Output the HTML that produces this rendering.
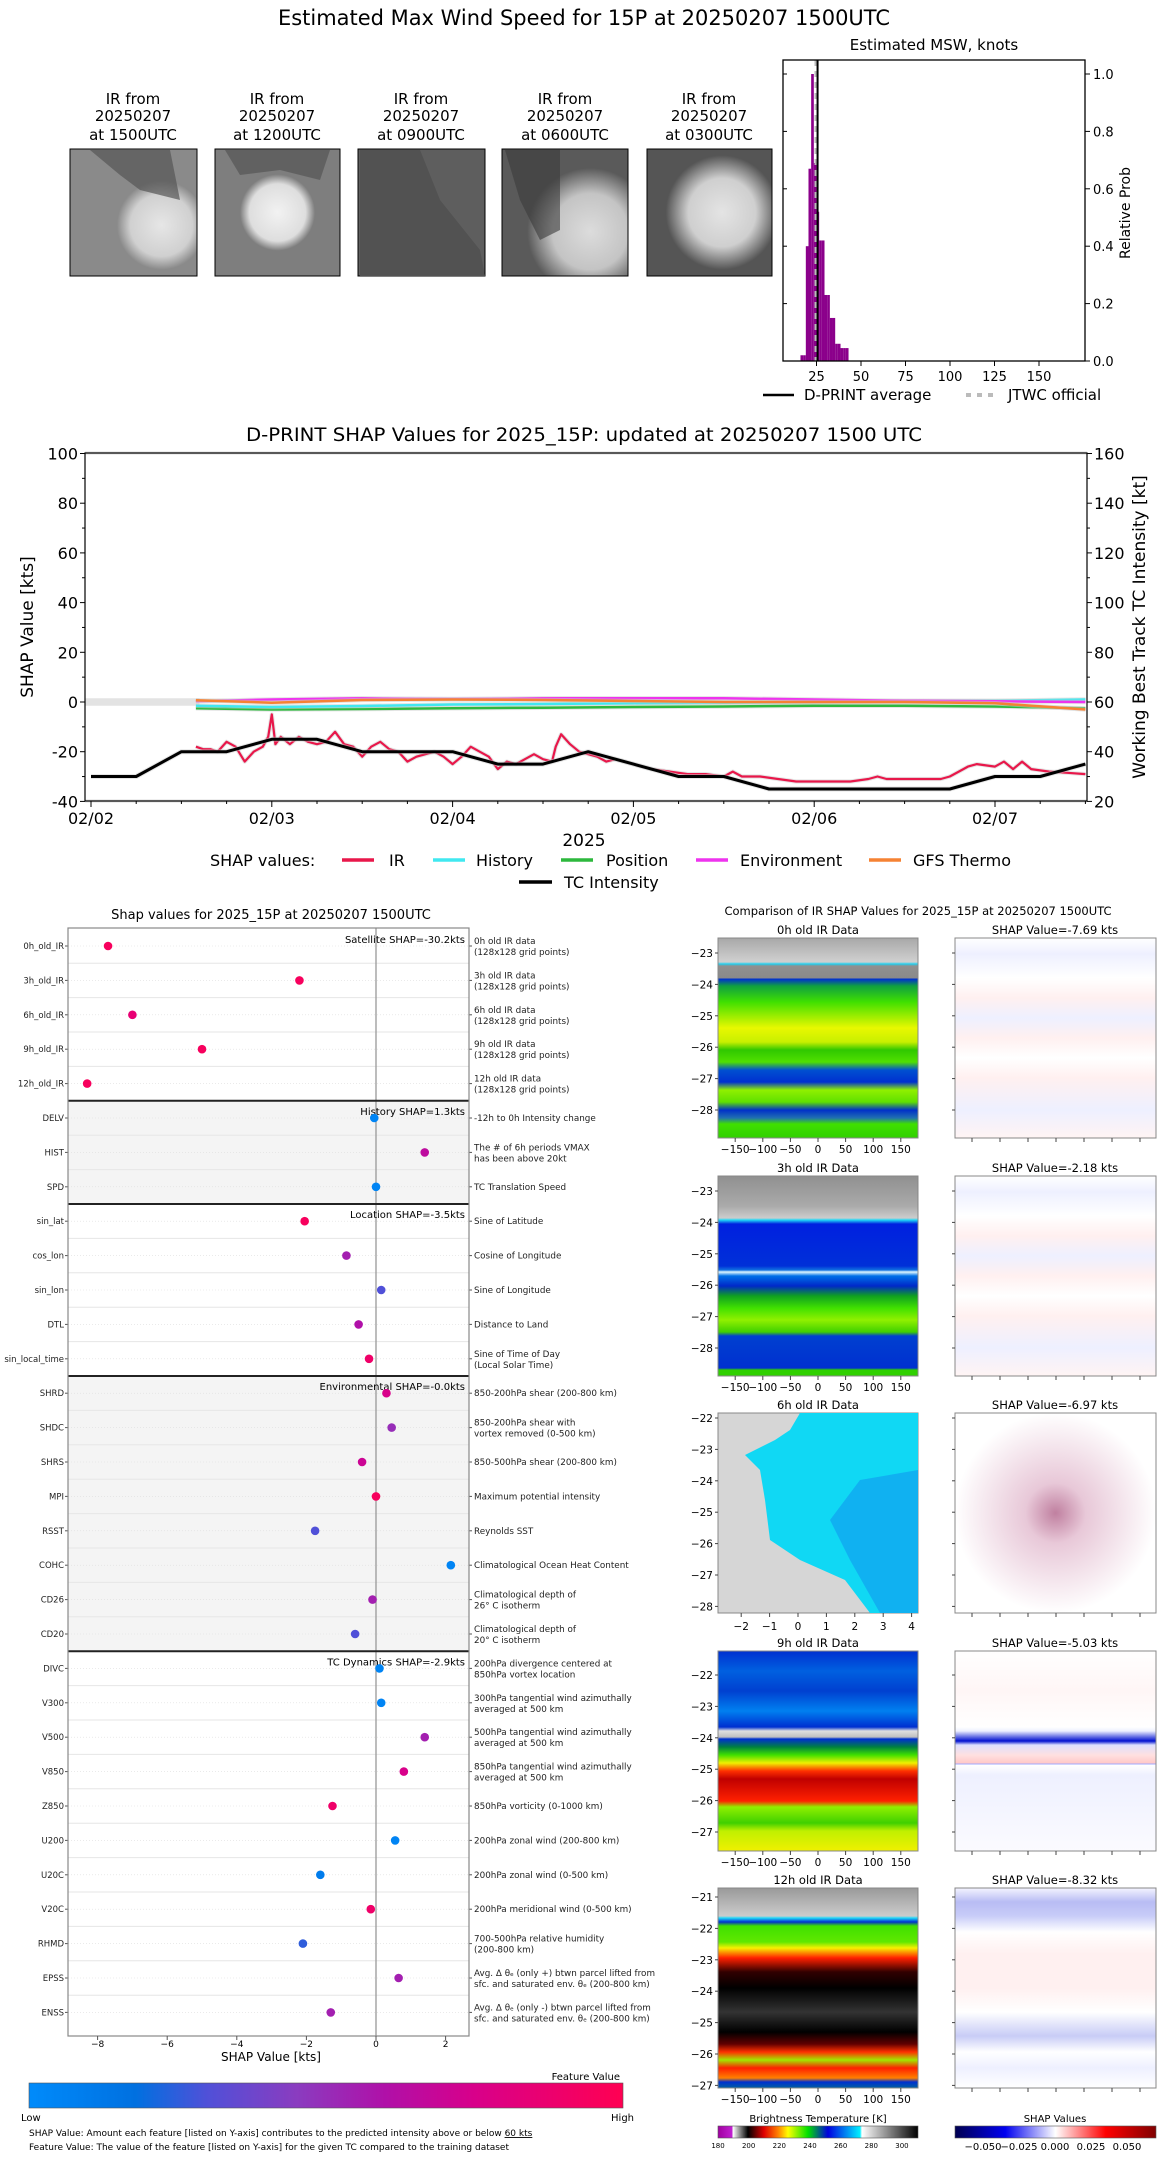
<!DOCTYPE html>
<html><head><meta charset="utf-8">
<style>
html,body{margin:0;padding:0;background:#fff;}
svg{display:block;font-family:"DejaVu Sans","Liberation Sans",sans-serif;}
</style></head>
<body>
<svg id="root" xmlns="http://www.w3.org/2000/svg" width="1168" height="2158" viewBox="0 0 1168 2158">
<defs>
<radialGradient id="sat1" cx="0.72" cy="0.6" r="0.35"><stop offset="0" stop-color="#e6e6e6"/><stop offset="0.7" stop-color="#d0d0d0"/><stop offset="1" stop-color="#8a8a8a"/></radialGradient>
<radialGradient id="sat2" cx="0.5" cy="0.5" r="0.3"><stop offset="0" stop-color="#f2f2f2"/><stop offset="0.75" stop-color="#dedede"/><stop offset="1" stop-color="#7e7e7e"/></radialGradient>
<radialGradient id="sat4" cx="0.7" cy="0.65" r="0.5"><stop offset="0" stop-color="#dcdcdc"/><stop offset="0.6" stop-color="#c4c4c4"/><stop offset="1" stop-color="#5a5a5a"/></radialGradient>
<radialGradient id="sat5" cx="0.6" cy="0.5" r="0.45"><stop offset="0" stop-color="#e4e4e4"/><stop offset="0.6" stop-color="#cfcfcf"/><stop offset="1" stop-color="#555"/></radialGradient>
<linearGradient id="ir0" x1="0" y1="0" x2="0" y2="1">
<stop offset="0" stop-color="#a8a8a8"/><stop offset="0.12" stop-color="#d0d0d0"/><stop offset="0.13" stop-color="#20d0f0"/><stop offset="0.14" stop-color="#909090"/><stop offset="0.2" stop-color="#8a8a8a"/><stop offset="0.205" stop-color="#0030d0"/><stop offset="0.24" stop-color="#10a040"/><stop offset="0.32" stop-color="#40e000"/><stop offset="0.45" stop-color="#e8f800"/><stop offset="0.52" stop-color="#c8f000"/><stop offset="0.56" stop-color="#30c800"/><stop offset="0.62" stop-color="#50e000"/><stop offset="0.66" stop-color="#0050d0"/><stop offset="0.72" stop-color="#0030d0"/><stop offset="0.76" stop-color="#90f000"/><stop offset="0.82" stop-color="#60e000"/><stop offset="0.86" stop-color="#0030c8"/><stop offset="0.9" stop-color="#2070b0"/><stop offset="0.93" stop-color="#40e000"/><stop offset="1" stop-color="#30d000"/></linearGradient>
<linearGradient id="ir1" x1="0" y1="0" x2="0" y2="1">
<stop offset="0" stop-color="#909090"/><stop offset="0.15" stop-color="#aaa"/><stop offset="0.21" stop-color="#ccc"/><stop offset="0.22" stop-color="#20d8f8"/><stop offset="0.24" stop-color="#0020e0"/><stop offset="0.45" stop-color="#0030d8"/><stop offset="0.47" stop-color="#1070e0"/><stop offset="0.48" stop-color="#e0f8ff"/><stop offset="0.5" stop-color="#0070e8"/><stop offset="0.55" stop-color="#0028c8"/><stop offset="0.6" stop-color="#10a020"/><stop offset="0.66" stop-color="#40e000"/><stop offset="0.72" stop-color="#90f000"/><stop offset="0.78" stop-color="#40d000"/><stop offset="0.8" stop-color="#0040d0"/><stop offset="0.96" stop-color="#0030d0"/><stop offset="0.97" stop-color="#30d000"/><stop offset="1" stop-color="#30d000"/></linearGradient>
<linearGradient id="ir3" x1="0" y1="0" x2="0" y2="1">
<stop offset="0" stop-color="#0030d0"/><stop offset="0.1" stop-color="#0060e0"/><stop offset="0.2" stop-color="#0040d0"/><stop offset="0.3" stop-color="#0080f0"/><stop offset="0.38" stop-color="#0030d0"/><stop offset="0.4" stop-color="#e0e0e0"/><stop offset="0.43" stop-color="#c0c0c0"/><stop offset="0.44" stop-color="#0030d0"/><stop offset="0.48" stop-color="#008040"/><stop offset="0.52" stop-color="#40e000"/><stop offset="0.56" stop-color="#f0f000"/><stop offset="0.6" stop-color="#ff3000"/><stop offset="0.64" stop-color="#c00000"/><stop offset="0.75" stop-color="#ff2000"/><stop offset="0.78" stop-color="#90f000"/><stop offset="0.86" stop-color="#40d000"/><stop offset="0.9" stop-color="#c0f000"/><stop offset="1" stop-color="#f0f000"/></linearGradient>
<linearGradient id="ir4" x1="0" y1="0" x2="0" y2="1">
<stop offset="0" stop-color="#999"/><stop offset="0.14" stop-color="#ccc"/><stop offset="0.15" stop-color="#20d8f8"/><stop offset="0.17" stop-color="#0030d0"/><stop offset="0.19" stop-color="#40e000"/><stop offset="0.27" stop-color="#60e800"/><stop offset="0.3" stop-color="#f8f000"/><stop offset="0.35" stop-color="#ff2000"/><stop offset="0.42" stop-color="#300000"/><stop offset="0.5" stop-color="#000"/><stop offset="0.62" stop-color="#333"/><stop offset="0.72" stop-color="#000"/><stop offset="0.78" stop-color="#600000"/><stop offset="0.82" stop-color="#ff3000"/><stop offset="0.86" stop-color="#a0e800"/><stop offset="0.9" stop-color="#ff2000"/><stop offset="0.95" stop-color="#ff8000"/><stop offset="0.97" stop-color="#0030d0"/><stop offset="1" stop-color="#0060a0"/></linearGradient>
<linearGradient id="sh0" x1="0" y1="0" x2="0" y2="1"><stop offset="0" stop-color="#fff"/><stop offset="0.08" stop-color="#eef0ff"/><stop offset="0.2" stop-color="#fff"/><stop offset="0.3" stop-color="#fff0f0"/><stop offset="0.4" stop-color="#eef0ff"/><stop offset="0.5" stop-color="#fff0f0"/><stop offset="0.6" stop-color="#fff"/><stop offset="0.7" stop-color="#fff0f0"/><stop offset="0.86" stop-color="#eef0ff"/><stop offset="1" stop-color="#fff4f4"/></linearGradient>
<linearGradient id="sh3" x1="0" y1="0" x2="0" y2="1"><stop offset="0" stop-color="#fff"/><stop offset="0.2" stop-color="#fff6f6"/><stop offset="0.38" stop-color="#fff"/><stop offset="0.4" stop-color="#eef0ff"/><stop offset="0.45" stop-color="#0010d0"/><stop offset="0.47" stop-color="#dde0ff"/><stop offset="0.52" stop-color="#ffe0e0"/><stop offset="0.56" stop-color="#ffc8c8"/><stop offset="0.565" stop-color="#a0a8ff"/><stop offset="0.57" stop-color="#fff"/><stop offset="0.62" stop-color="#eef0ff"/><stop offset="1" stop-color="#fbfbff"/></linearGradient>
<linearGradient id="sh4" x1="0" y1="0" x2="0" y2="1"><stop offset="0" stop-color="#f4f4ff"/><stop offset="0.07" stop-color="#b8bcf4"/><stop offset="0.14" stop-color="#c8ccf8"/><stop offset="0.22" stop-color="#fff"/><stop offset="0.33" stop-color="#fff0f0"/><stop offset="0.5" stop-color="#fff0f0"/><stop offset="0.62" stop-color="#fff"/><stop offset="0.74" stop-color="#c8ccf6"/><stop offset="0.82" stop-color="#fff"/><stop offset="0.9" stop-color="#eef0ff"/><stop offset="1" stop-color="#fff"/></linearGradient>
<radialGradient id="sh2" cx="0.5" cy="0.5" r="0.5"><stop offset="0" stop-color="#c080a0"/><stop offset="0.3" stop-color="#e8c8d8"/><stop offset="1" stop-color="#fff"/></radialGradient>
<linearGradient id="btcb" x1="0" y1="0" x2="1" y2="0"><stop offset="0" stop-color="#a000a0"/><stop offset="0.07" stop-color="#c020d0"/><stop offset="0.075" stop-color="#fff"/><stop offset="0.15" stop-color="#000"/><stop offset="0.23" stop-color="#e00000"/><stop offset="0.3" stop-color="#ff8000"/><stop offset="0.35" stop-color="#ffff00"/><stop offset="0.45" stop-color="#00e000"/><stop offset="0.55" stop-color="#0000e0"/><stop offset="0.71" stop-color="#00f0ff"/><stop offset="0.72" stop-color="#fff"/><stop offset="1" stop-color="#000"/></linearGradient>
<linearGradient id="shcb" x1="0" y1="0" x2="1" y2="0"><stop offset="0" stop-color="#000050"/><stop offset="0.25" stop-color="#0000f0"/><stop offset="0.5" stop-color="#fff"/><stop offset="0.75" stop-color="#ff0000"/><stop offset="1" stop-color="#800000"/></linearGradient>
<linearGradient id="fvcb" x1="0" y1="0" x2="1" y2="0"><stop offset="0" stop-color="#008bfb"/><stop offset="0.18" stop-color="#0070e0"/><stop offset="0.3" stop-color="#5050d8"/><stop offset="0.45" stop-color="#8a3cc0"/><stop offset="0.6" stop-color="#b010a8"/><stop offset="0.75" stop-color="#d8008a"/><stop offset="1" stop-color="#ff0052"/></linearGradient>
</defs>

<text x="584" y="25" font-size="21" text-anchor="middle" textLength="612" lengthAdjust="spacingAndGlyphs">Estimated Max Wind Speed for 15P at 20250207 1500UTC</text>

<g font-size="15" text-anchor="middle">
 <g>
  <text x="133" y="104">IR from</text><text x="133" y="121">20250207</text><text x="133" y="140">at 1500UTC</text>
  <rect x="70" y="149" width="127" height="127" fill="url(#sat1)" stroke="#000"/>
  <path d="M90,150 L170,150 L180,200 L140,190 L120,175 Z" fill="#555" opacity="0.7"/>
 </g>
 <g>
  <text x="277" y="104">IR from</text><text x="277" y="121">20250207</text><text x="277" y="140">at 1200UTC</text>
  <rect x="215" y="149" width="125" height="127" fill="url(#sat2)" stroke="#000"/>
  <path d="M225,150 L330,150 L320,180 L280,170 L240,175 Z" fill="#555" opacity="0.7"/>
 </g>
 <g>
  <text x="421" y="104">IR from</text><text x="421" y="121">20250207</text><text x="421" y="140">at 0900UTC</text>
  <rect x="358" y="149" width="127" height="127" fill="#5e5e5e" stroke="#000"/>
  <path d="M360,150 L420,150 L440,200 L480,250 L485,276 L360,276 Z" fill="#525252"/>
 </g>
 <g>
  <text x="565" y="104">IR from</text><text x="565" y="121">20250207</text><text x="565" y="140">at 0600UTC</text>
  <rect x="502" y="149" width="126" height="127" fill="url(#sat4)" stroke="#000"/>
  <path d="M505,150 L560,150 L560,230 L540,240 L520,200 Z" fill="#3a3a3a" opacity="0.6"/>
 </g>
 <g>
  <text x="709" y="104">IR from</text><text x="709" y="121">20250207</text><text x="709" y="140">at 0300UTC</text>
  <rect x="647" y="149" width="125" height="127" fill="url(#sat5)" stroke="#000"/>
 </g>
</g>

<g id="hist">
 <text x="934" y="50" font-size="15" text-anchor="middle">Estimated MSW, knots</text>
 <text transform="translate(1130,213) rotate(-90)" font-size="14" text-anchor="middle">Relative Prob</text>
</g>

<g id="ts">
 <text x="584" y="441" font-size="19" text-anchor="middle" textLength="676" lengthAdjust="spacingAndGlyphs">D-PRINT SHAP Values for 2025_15P: updated at 20250207 1500 UTC</text>
 <text transform="translate(33,627) rotate(-90)" font-size="17" text-anchor="middle">SHAP Value [kts]</text>
 <text transform="translate(1145,627) rotate(-90)" font-size="17" text-anchor="middle">Working Best Track TC Intensity [kt]</text>
 <text x="584" y="846" font-size="17" text-anchor="middle">2025</text>
</g>

<g id="dots">
 <text x="271" y="919" font-size="13" text-anchor="middle">Shap values for 2025_15P at 20250207 1500UTC</text>
 <text x="271" y="2061" font-size="12" text-anchor="middle">SHAP Value [kts]</text>
 <text x="620" y="2080" font-size="10" text-anchor="end">Feature Value</text>
 <rect x="29" y="2083" width="594" height="25" fill="url(#fvcb)" stroke="#555" stroke-width="0.6"/>
 <text x="21" y="2121" font-size="10">Low</text>
 <text x="634" y="2121" font-size="10" text-anchor="end">High</text>
 <text x="29" y="2136" font-size="9">SHAP Value: Amount each feature [listed on Y-axis] contributes to the predicted intensity above or below <tspan text-decoration="underline">60 kts</tspan></text>
 <text x="29" y="2150" font-size="9">Feature Value: The value of the feature [listed on Y-axis] for the given TC compared to the training dataset</text>
</g>

<g id="cmp" font-size="11">
 <text x="918" y="915" font-size="11.5" text-anchor="middle">Comparison of IR SHAP Values for 2025_15P at 20250207 1500UTC</text>
 <g>
  <rect x="718" y="938" width="200" height="200" fill="url(#ir0)" stroke="#888"/>
  <rect x="955" y="938" width="201" height="200" fill="url(#sh0)" stroke="#888"/>
 </g>
 <g>
  <rect x="718" y="1176" width="200" height="200" fill="url(#ir1)" stroke="#888"/>
  <rect x="955" y="1176" width="201" height="200" fill="url(#sh0)" stroke="#888"/>
 </g>
 <g>
  <rect x="718" y="1413" width="200" height="200" fill="#d6d6d6" stroke="#888"/>
  <path d="M800,1413 L918,1413 L918,1613 L870,1613 L845,1580 L800,1560 L770,1540 L765,1500 L760,1470 L745,1455 L755,1450 L775,1440 L790,1430 Z" fill="#10d8f4"/>
  <path d="M918,1470 L918,1613 L880,1613 L850,1560 L830,1520 L860,1480 Z" fill="#10a8f0" opacity="0.8"/>
  <rect x="955" y="1413" width="201" height="200" fill="url(#sh2)" stroke="#888"/>
 </g>
 <g>
  <rect x="718" y="1651" width="200" height="200" fill="url(#ir3)" stroke="#888"/>
  <rect x="955" y="1651" width="201" height="200" fill="url(#sh3)" stroke="#888"/>
 </g>
 <g>
  <rect x="718" y="1888" width="200" height="200" fill="url(#ir4)" stroke="#888"/>
  <rect x="955" y="1888" width="201" height="200" fill="url(#sh4)" stroke="#888"/>
 </g>
 <text x="818" y="2122" text-anchor="middle" font-size="10">Brightness Temperature [K]</text>
 <rect x="718" y="2126" width="200" height="12" fill="url(#btcb)" stroke="#555" stroke-width="0.6"/>
 <text x="1055" y="2122" text-anchor="middle" font-size="10">SHAP Values</text>
 <rect x="955" y="2126" width="201" height="12" fill="url(#shcb)" stroke="#555" stroke-width="0.6"/>
</g>
</svg>

<script>
// ================= Histogram data =================
const histBinStart = [16,17.5,19,20.5,22,23.5,25,26.5,28,29.5,31,32.5,34,35.5,37,38.5,40,41.5];
const histProb = [0.02,0.02,0.40,0.67,1.0,0.69,0.52,0.42,0.42,0.23,0.23,0.15,0.15,0.06,0.06,0.045,0.045,0.045];
const histBinWidth = 1.5;
const histXTicks = [25,50,75,100,125,150];
const histYTicks = [0.0,0.2,0.4,0.6,0.8,1.0];
const dprintAvg = 25.6;
const jtwcOfficial = 25;

// ================= Time series data =================
const tsDateLabels = ['02/02','02/03','02/04','02/05','02/06','02/07'];
const tsLeftTicks = [-40,-20,0,20,40,60,80,100];
const tsRightTicks = [20,40,60,80,100,120,140,160];
const intensityT = [0,0.25,0.5,0.75,1,1.25,1.5,1.75,2,2.25,2.5,2.75,3,3.25,3.5,3.75,4,4.25,4.5,4.75,5,5.25,5.5];
const intensityKt = [30,30,40,40,45,45,40,40,40,35,35,40,35,30,30,25,25,25,25,25,30,30,35];
const irT = [0.58,0.62,0.66,0.7,0.75,0.8,0.85,0.9,0.95,0.98,1.0,1.02,1.05,1.1,1.15,1.2,1.25,1.3,1.35,1.4,1.45,1.5,1.55,1.6,1.65,1.7,1.75,1.8,1.85,1.9,1.95,2.0,2.05,2.1,2.15,2.2,2.25,2.3,2.35,2.4,2.45,2.5,2.55,2.57,2.6,2.65,2.7,2.75,2.8,2.85,2.9,3.0,3.1,3.2,3.3,3.4,3.5,3.55,3.6,3.7,3.8,3.9,4.0,4.1,4.2,4.3,4.35,4.4,4.5,4.6,4.7,4.75,4.8,4.85,4.9,5.0,5.05,5.1,5.15,5.2,5.3,5.4,5.5];
const irV = [-18,-19,-19,-20,-16,-18,-24,-20,-18,-14,-5,-17,-14,-17,-14,-16,-17,-16,-12,-17,-18,-22,-18,-16,-19,-20,-24,-22,-21,-20,-22,-25,-22,-18,-20,-22,-27,-24,-25,-23,-21,-23,-24,-18,-13,-17,-20,-21,-22,-24,-23,-25,-27,-28,-29,-29,-30,-28,-30,-30,-31,-32,-32,-32,-32,-31,-30,-31,-31,-31,-31,-30,-28,-26,-25,-26,-24,-27,-24,-27,-28,-28.5,-29];
const grpT = [0.58,1.0,1.5,2.0,2.5,3.0,3.5,4.0,4.5,5.0,5.5];
const historyV = [-1.5,-2,-1.6,-1,-0.8,-0.5,-0.3,0,0.3,0.5,1];
const positionV = [-2.5,-3,-2.8,-2.5,-2.3,-2,-1.8,-1.5,-1.5,-1.8,-2.5];
const environmentV = [0.3,1,1.5,1.2,1.5,1.5,1.5,1,0.5,0.3,0];
const gfsThermoV = [0.7,-0.3,0.8,1,0.8,0.4,0,0,0,-0.5,-3];

// ================= Feature panel data =================
const featNames = ['0h_old_IR','3h_old_IR','6h_old_IR','9h_old_IR','12h_old_IR','DELV','HIST','SPD','sin_lat','cos_lon','sin_lon','DTL','sin_local_time','SHRD','SHDC','SHRS','MPI','RSST','COHC','CD26','CD20','DIVC','V300','V500','V850','Z850','U200','U20C','V20C','RHMD','EPSS','ENSS'];
const shapVals = [-7.7,-2.2,-7.0,-5.0,-8.3,-0.05,1.4,0.0,-2.05,-0.85,0.15,-0.5,-0.2,0.3,0.45,-0.4,0.0,-1.75,2.15,-0.1,-0.6,0.1,0.15,1.4,0.8,-1.25,0.55,-1.6,-0.15,-2.1,0.65,-1.3];
const featVals = [0.95,0.95,0.85,0.95,0.95,0.05,0.65,0.05,0.95,0.55,0.3,0.6,0.9,0.75,0.5,0.7,0.95,0.3,0.05,0.55,0.3,0.05,0.05,0.55,0.75,0.9,0.05,0.1,0.9,0.25,0.55,0.55];
const featDesc = [['0h old IR data','(128x128 grid points)'],['3h old IR data','(128x128 grid points)'],['6h old IR data','(128x128 grid points)'],['9h old IR data','(128x128 grid points)'],['12h old IR data','(128x128 grid points)'],['-12h to 0h Intensity change'],['The # of 6h periods VMAX','has been above 20kt'],['TC Translation Speed'],['Sine of Latitude'],['Cosine of Longitude'],['Sine of Longitude'],['Distance to Land'],['Sine of Time of Day','(Local Solar Time)'],['850-200hPa shear (200-800 km)'],['850-200hPa shear with','vortex removed (0-500 km)'],['850-500hPa shear (200-800 km)'],['Maximum potential intensity'],['Reynolds SST'],['Climatological Ocean Heat Content'],['Climatological depth of','26° C isotherm'],['Climatological depth of','20° C isotherm'],['200hPa divergence centered at','850hPa vortex location'],['300hPa tangential wind azimuthally','averaged at 500 km'],['500hPa tangential wind azimuthally','averaged at 500 km'],['850hPa tangential wind azimuthally','averaged at 500 km'],['850hPa vorticity (0-1000 km)'],['200hPa zonal wind (200-800 km)'],['200hPa zonal wind (0-500 km)'],['200hPa meridional wind (0-500 km)'],['700-500hPa relative humidity','(200-800 km)'],['Avg. Δ θₑ (only +) btwn parcel lifted from','sfc. and saturated env. θₑ (200-800 km)'],['Avg. Δ θₑ (only -) btwn parcel lifted from','sfc. and saturated env. θₑ (200-800 km)']];
const groupNames = ['Satellite SHAP=-30.2kts','History SHAP=1.3kts','Location SHAP=-3.5kts','Environmental SHAP=-0.0kts','TC Dynamics SHAP=-2.9kts'];
const groupStart = [0,5,8,13,21];
const groupSize = [5,3,5,8,11];
const shapXTicks = [-8,-6,-4,-2,0,2];

// ================= IR comparison data =================
const cmpTitles = ['0h old IR Data','3h old IR Data','6h old IR Data','9h old IR Data','12h old IR Data'];
const cmpShap = ['-7.69','-2.18','-6.97','-5.03','-8.32'];
const lonTicks = [-150,-100,-50,0,50,100,150];
const btTicks = [180,200,220,240,260,280,300];
const shTicks = ['−0.050','−0.025','0.000','0.025','0.050'];

const NS='http://www.w3.org/2000/svg';
function mk(parent, tag, attrs, txt){
  const e=document.createElementNS(NS,tag);
  for(const k in attrs) e.setAttribute(k,attrs[k]);
  if(txt!==undefined) e.textContent=txt;
  parent.appendChild(e); return e;
}

// ---------- Histogram ----------
(function(){
  const g=document.getElementById('hist');
  const X0=783,X1=1085,Y0=60,Y1=361;
  const hx=k=>772+k*1.78, hy=p=>361-p*287;
  histBinStart.forEach((b,i)=>{
    const r=mk(g,'rect',{x:hx(b),y:hy(histProb[i]),width:hx(b+histBinWidth)-hx(b),height:Y1-hy(histProb[i]),fill:'#8b008b'});
    
    
  });
  const j=mk(g,'line',{x1:hx(jtwcOfficial),x2:hx(jtwcOfficial),y1:Y0,y2:Y1,stroke:'#bbb','stroke-width':4,'stroke-dasharray':'6,5'});
  
  
  const d=mk(g,'line',{x1:hx(dprintAvg),x2:hx(dprintAvg),y1:Y0,y2:Y1,stroke:'#000','stroke-width':2});
  
  
  const fr=mk(g,'rect',{x:X0,y:Y0,width:X1-X0,height:Y1-Y0,fill:'none',stroke:'#000','stroke-width':1.3});
  
  
  histXTicks.forEach(v=>{
    mk(g,'line',{x1:hx(v),x2:hx(v),y1:Y1,y2:Y1+5,stroke:'#000'});
    const t=mk(g,'text',{x:hx(v),y:Y1+20,'font-size':13,'text-anchor':'middle'},String(v));
    
    
  });
  histYTicks.forEach(v=>{
    mk(g,'line',{x1:X1,x2:X1+5,y1:hy(v),y2:hy(v),stroke:'#000'});
    mk(g,'line',{x1:X0,x2:X0+4,y1:hy(v),y2:hy(v),stroke:'#000'});
    const t=mk(g,'text',{x:X1+8,y:hy(v)+5,'font-size':13},v.toFixed(1));
    
    
  });
  const l1=mk(g,'line',{x1:763,x2:794,y1:395,y2:395,stroke:'#000','stroke-width':2.5});
  
  
  const t1=mk(g,'text',{x:804,y:400,'font-size':15},'D-PRINT average');
  
  
  const l2=mk(g,'line',{x1:966,x2:997,y1:395,y2:395,stroke:'#bbb','stroke-width':4,'stroke-dasharray':'5,6'});
  
  
  const t2=mk(g,'text',{x:1008,y:400,'font-size':15},'JTWC official');
  
  
})();

// ---------- Time series ----------
(function(){
  const g=document.getElementById('ts');
  const X0=85,X1=1087,Y0=453,Y1=801;
  const X=t=>91+t*180.8, Y=v=>702-v*2.485;
  const band=mk(g,'rect',{x:X0,y:Y(1.5),width:X(0.6)-X0,height:Y(-1.5)-Y(1.5),fill:'#e3e3e3'});
  
  
  function series(T,V,color,w,name){
    const p=T.map((t,i)=>X(t).toFixed(1)+','+Y(V[i]).toFixed(1)).join(' ');
    mk(g,'polyline',{points:p,fill:'none',stroke:'#ccc','stroke-width':w+2,'stroke-linejoin':'round',opacity:0.5});
    const e=mk(g,'polyline',{points:p,fill:'none',stroke:color,'stroke-width':w,'stroke-linejoin':'round'});
    
    
  }
  series(grpT,positionV,'#2db83d',2.5,'position-line');
  series(grpT,historyV,'#40e8f0',2.5,'history-line');
  series(grpT,environmentV,'#ee33ee',2.5,'environment-line');
  series(grpT,gfsThermoV,'#f58233',2.5,'gfs-thermo-line');
  series(irT,irV,'#e8174a',2.2,'ir-line');
  series(intensityT,intensityKt.map(k=>k-60),'#000',3,'tc-intensity-line');
  mk(g,'line',{x1:X0,x2:X1,y1:Y0,y2:Y0,stroke:'#ddd','stroke-width':3});
  mk(g,'line',{x1:X0,x2:X1,y1:Y1,y2:Y1,stroke:'#ddd','stroke-width':3});
  const fr=mk(g,'rect',{x:X0,y:Y0,width:X1-X0,height:Y1-Y0,fill:'none',stroke:'#000','stroke-width':1.2});
  
  
  tsLeftTicks.forEach(v=>{
    mk(g,'line',{x1:X0-5,x2:X0,y1:Y(v),y2:Y(v),stroke:'#000'});
    if(v<100) mk(g,'line',{x1:X0-3,x2:X0,y1:Y(v+10),y2:Y(v+10),stroke:'#000'});
    const t=mk(g,'text',{x:X0-7,y:Y(v)+6,'font-size':16,'text-anchor':'end'},String(v));
    
    
  });
  tsRightTicks.forEach(v=>{
    mk(g,'line',{x1:X1,x2:X1+5,y1:Y(v-60),y2:Y(v-60),stroke:'#000'});
    if(v<160) mk(g,'line',{x1:X1,x2:X1+3,y1:Y(v-50),y2:Y(v-50),stroke:'#000'});
    const t=mk(g,'text',{x:X1+7,y:Y(v-60)+6,'font-size':16},String(v));
    
    
  });
  tsDateLabels.forEach((s,i)=>{
    mk(g,'line',{x1:X(i),x2:X(i),y1:Y1,y2:Y1+6,stroke:'#000'});
    for(let q=1;q<4;q++){ if(X(i+q/4)<X1) mk(g,'line',{x1:X(i+q/4),x2:X(i+q/4),y1:Y1,y2:Y1+3,stroke:'#000'}); }
    const t=mk(g,'text',{x:X(i),y:824,'font-size':16,'text-anchor':'middle'},s);
    
    
  });
  const lg=[['IR','#e8174a',342,389],['History','#40e8f0',433,476],['Position','#2db83d',561,606],['Environment','#ee33ee',696,740],['GFS Thermo','#f58233',869,913]];
  const lt=mk(g,'text',{x:210,y:866,'font-size':16},'SHAP values:');
  
  
  lg.forEach(a=>{
    const s=mk(g,'line',{x1:a[2],x2:a[2]+32,y1:860,y2:860,stroke:a[1],'stroke-width':3.5});
    
    
    const t=mk(g,'text',{x:a[3],y:866,'font-size':16},a[0]);
    
    
  });
  const s=mk(g,'line',{x1:519,x2:552,y1:882,y2:882,stroke:'#000','stroke-width':3.5});
  
  
  const t=mk(g,'text',{x:564,y:888,'font-size':16},'TC Intensity');
  
  
})();

// ---------- Feature dot panel ----------
(function(){
  const g=document.getElementById('dots');
  const X0=68,X1=469,Y0=928,Y1=2036,RS=34.4,R0=946;
  const X=v=>376+v*34.8, RY=i=>R0+i*RS;
  const stops=[[0,[0,139,251]],[0.18,[0,112,224]],[0.3,[80,80,216]],[0.45,[138,60,192]],[0.6,[176,16,168]],[0.75,[216,0,138]],[1,[255,0,82]]];
  function col(f){for(let i=1;i<stops.length;i++){if(f<=stops[i][0]){const a=stops[i-1],b=stops[i],u=(f-a[0])/(b[0]-a[0]);return 'rgb('+a[1].map((c,k)=>Math.round(c+(b[1][k]-c)*u)).join(',')+')';}}return 'rgb(255,0,82)';}
  groupStart.forEach((s,gi)=>{
    const top=gi===0?Y0:RY(s)-RS/2, bot=gi===4?Y1:RY(s+groupSize[gi])-RS/2;
    if(gi===1||gi===3){const r=mk(g,'rect',{x:X0,y:top,width:X1-X0,height:bot-top,fill:'#f4f4f4'});
      
      }
    for(let k=1;k<groupSize[gi];k++) mk(g,'line',{x1:X0,x2:X1,y1:RY(s+k)-RS/2,y2:RY(s+k)-RS/2,stroke:'#e6e6e6'});
  });
  const z=mk(g,'line',{x1:X(0),x2:X(0),y1:Y0,y2:Y1,stroke:'#999','stroke-width':1.3});
  
  
  groupStart.forEach((s,gi)=>{
    const top=RY(s)-RS/2;
    if(gi>0){const l=mk(g,'line',{x1:X0,x2:X1,y1:top,y2:top,stroke:'#222','stroke-width':2});
      
      }
    const t=mk(g,'text',{x:X1-4,y:RY(s)-3,'font-size':10,'text-anchor':'end'},groupNames[gi]);
    
    
  });
  featNames.forEach((n,i)=>{
    const y=RY(i);
    mk(g,'line',{x1:X0,x2:X1,y1:y,y2:y,stroke:'#ddd','stroke-dasharray':'1,2','stroke-width':0.6});
    mk(g,'line',{x1:X0-3,x2:X0,y1:y,y2:y,stroke:'#555'});
    mk(g,'line',{x1:X1,x2:X1+3,y1:y,y2:y,stroke:'#555'});
    const t=mk(g,'text',{x:X0-4,y:y+3,'font-size':8.5,'text-anchor':'end',fill:'#222'},n);
    
    
    const d=featDesc[i];
    d.forEach((line,k)=>{
      const ty=d.length===1?y+3:y-2+k*11;
      const tt=mk(g,'text',{x:X1+5,y:ty,'font-size':8.8,fill:'#222'},line);
      
      
    });
    const c=mk(g,'circle',{cx:X(shapVals[i]),cy:y,r:4.3,fill:col(featVals[i])});
    
    
  });
  mk(g,'rect',{x:X0,y:Y0,width:X1-X0,height:Y1-Y0,fill:'none',stroke:'#888','stroke-width':1.2});
  shapXTicks.forEach(v=>{
    mk(g,'line',{x1:X(v),x2:X(v),y1:Y1,y2:Y1+4,stroke:'#555'});
    const t=mk(g,'text',{x:X(v),y:2047,'font-size':9,'text-anchor':'middle'},v<0?'−'+(-v):String(v));
    
    
  });
})();

// ---------- IR comparison panel ----------
(function(){
  const g=document.getElementById('cmp');
  const tops=[938,1176,1413,1651,1888];
  const latStart=[-23,-23,-22,-22,-21], latOff=[15,15,5,24,9], latN=[6,6,7,6,7];
  tops.forEach((top,r)=>{
    const t=mk(g,'text',{x:818,y:top-4,'font-size':11.5,'text-anchor':'middle'},cmpTitles[r]);
    
    
    const s=mk(g,'text',{x:1055,y:top-4,'font-size':11.5,'text-anchor':'middle'},'SHAP Value='+cmpShap[r]+' kts');
    
    
    for(let k=0;k<latN[r];k++){
      const y=top+latOff[r]+k*31.4;
      if(y>top+201) break;
      mk(g,'line',{x1:715,x2:718,y1:y,y2:y,stroke:'#444'});
      mk(g,'line',{x1:952,x2:955,y1:y,y2:y,stroke:'#444'});
      const l=mk(g,'text',{x:713,y:y+4,'font-size':10.5,'text-anchor':'end'},'−'+(-(latStart[r]-k)));
      
      
    }
    for(let k=0;k<7;k++){ const x=972+k*28; mk(g,'line',{x1:x,x2:x,y1:top+200,y2:top+204,stroke:'#444'}); }
    if(r===2){
      [-2,-1,0,1,2,3,4].forEach(v=>{
        const x=798+v*28.4;
        mk(g,'line',{x1:x,x2:x,y1:top+200,y2:top+204,stroke:'#444'});
        const l=mk(g,'text',{x:x,y:top+217,'font-size':10.5,'text-anchor':'middle'},v<0?'−'+(-v):String(v));
        
        
      });
    } else {
      lonTicks.forEach(v=>{
        const x=818+v*0.552;
        mk(g,'line',{x1:x,x2:x,y1:top+200,y2:top+204,stroke:'#444'});
        const l=mk(g,'text',{x:x,y:top+215,'font-size':10.5,'text-anchor':'middle'},v<0?'−'+(-v):String(v));
        
        
      });
    }
  });
  btTicks.forEach(v=>{
    const x=718+(v-180)*1.533;
    const t=mk(g,'text',{x:x,y:2148,'font-size':7,'text-anchor':'middle'},String(v));
    
    
  });
  shTicks.forEach((s,i)=>{
    const x=983+i*36;
    const t=mk(g,'text',{x:x,y:2150,'font-size':10,'text-anchor':'middle'},s);
    
    
  });
})();
</script>
</body></html>
